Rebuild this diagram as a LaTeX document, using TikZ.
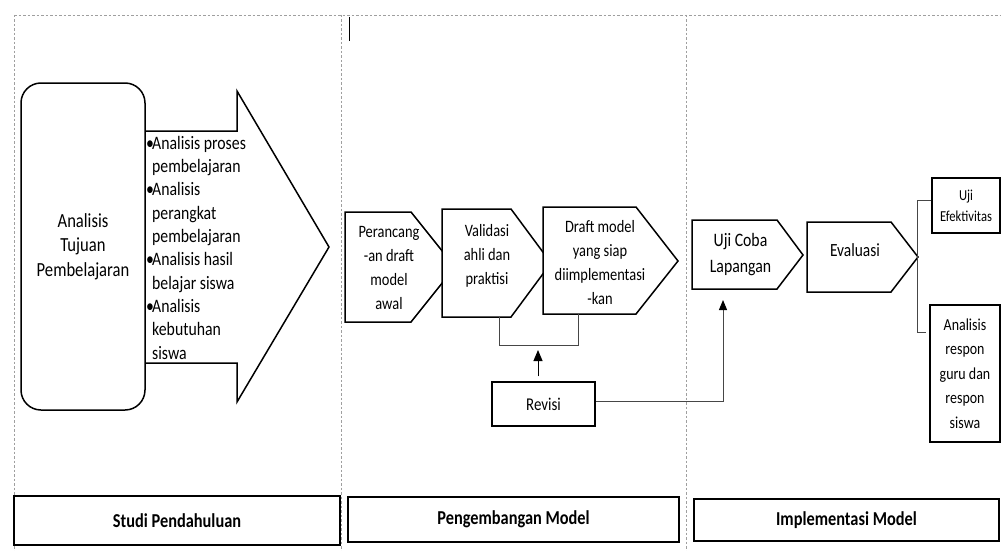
\documentclass[tikz,border=0pt]{standalone}
\usepackage{fontspec}
\setmainfont{Carlito}[FakeStretch=0.83]
\usetikzlibrary{arrows.meta}
\newcommand{\butir}{\makebox[6pt][l]{\textbullet}}
\newcommand{\inden}{\hspace*{6pt}}

\begin{document}
\begin{tikzpicture}[x=1pt, y=-1pt,
  every node/.style={inner sep=0pt},
  guide/.style={draw=gray!75, line width=0.8pt, dash pattern=on 2.5pt off 2pt},
  pent/.style={draw=black, fill=white, line width=1.5pt, line join=miter},
  kotak/.style={draw=black, fill=white, line width=1.5pt, align=center},
  txt/.style={align=center, font={\fontsize{17.4}{24}\selectfont}},
  tahap/.style={draw=black, fill=white, line width=2.4pt,
    font={\bfseries\fontsize{19.7}{22}\selectfont}},
  link/.style={draw=gray!55!black, line width=1pt},
  naik/.style={draw=black, line width=1pt, -{Triangle[length=11pt, width=9pt]}},
]
  \useasboundingbox (0,0) rectangle (1001,551);

  % dashed column guides
  \draw[guide] (14,15) -- (1001,15);
  \draw[guide] (14,15) -- (14,551);
  \draw[guide] (341,15) -- (341,551);
  \draw[guide] (686,15) -- (686,551);
  \draw[line width=0.6pt] (349,17) -- (349,41);

  % Studi pendahuluan
  \draw[pent] (145,131) -- (237,131) -- (237,91) -- (329,247)
    -- (237,402) -- (237,363) -- (145,363);
  \node[kotak, rounded corners=20pt, minimum width=124pt, minimum height=327pt,
        font={\fontsize{20}{24.5}\selectfont}] (tujuan) at (83,246.5)
    {Analisis\\Tujuan\\Pembelajaran};
  \node[anchor=north west, align=left, font={\fontsize{19}{23.3}\selectfont}]
    (daftar) at (146,136)
    {\butir Analisis proses\\\inden pembelajaran\\\butir Analisis\\\inden perangkat\\
     \inden pembelajaran\\\butir Analisis hasil\\\inden belajar siswa\\
     \butir Analisis\\\inden kebutuhan\\\inden siswa};

  % Pengembangan model
  \draw[pent] (345,212) -- (411,212) -- (455,267) -- (411,322) -- (345,322) -- cycle;
  \draw[pent] (442,209) -- (511,209) -- (551,263) -- (511,317) -- (442,317) -- cycle;
  \draw[pent] (543,207) -- (636,207) -- (678,261) -- (636,314) -- (543,314) -- cycle;
  \node[txt] (rancang) at (389,267.5) {Perancang\\-an draft\\model\\awal};
  \node[txt] (validasi) at (487,256) {Validasi\\ahli dan\\praktisi};
  \node[txt] (draft) at (600,263) {Draft model\\yang siap\\diimplementasi\\-kan};

  \coordinate (vbawah) at (499,317);
  \coordinate (dbawah) at (578,314);
  \coordinate (kurung) at (538,346);
  \draw[link] (vbawah) -- ++(0,28) -| (dbawah);

  \node[kotak, minimum width=103pt, minimum height=44pt,
        font={\fontsize{18}{20}\selectfont}] (revisi) at (543.5,404) {Revisi};
  \draw[naik, shorten <=5pt, shorten >=4pt] (revisi.north -| kurung) -- (kurung);

  % Implementasi model
  \draw[pent] (692,220) -- (777,220) -- (803,255) -- (777,289) -- (692,289) -- cycle;
  \draw[pent] (807,222) -- (891,222) -- (918,257) -- (891,292) -- (807,292) -- cycle;
  \node[txt, font={\fontsize{19}{26}\selectfont}] (ujicoba) at (740.5,255)
    {Uji Coba\\Lapangan};
  \node[txt, font={\fontsize{18.6}{20}\selectfont}] (evaluasi) at (855,250) {Evaluasi};

  \node[kotak, minimum width=68pt, minimum height=55pt,
        font={\fontsize{15.2}{21}\selectfont}] (efek) at (966,205.5) {Uji\\Efektivitas};
  \node[kotak, minimum width=70pt, minimum height=137pt,
        font={\fontsize{16.8}{24.5}\selectfont}] (respon) at (965,373.5)
    {Analisis\\respon\\guru dan\\respon\\siswa};
  \draw[link] (efek.west |- 0,200) -- (917,200) -- (917,332)
    -- ([xshift=-3pt]respon.west |- 0,332);

  \coordinate (ujibawah) at (723,289);
  \draw[link, -{Triangle[length=10pt, width=8pt, color=black]}, shorten >=11pt]
    ([yshift=3pt]revisi.east) -| (ujibawah);

  % tahap labels
  \node[tahap, minimum width=326pt, minimum height=49pt] (studi) at (177,520.5)
    {Studi Pendahuluan};
  \node[tahap, minimum width=331pt, minimum height=45pt] (kembang) at (513.5,519.5)
    {Pengembangan Model};
  \node[tahap, minimum width=305pt, minimum height=42pt] (implementasi) at (846.5,520)
    {Implementasi Model};
\end{tikzpicture}
\end{document}
